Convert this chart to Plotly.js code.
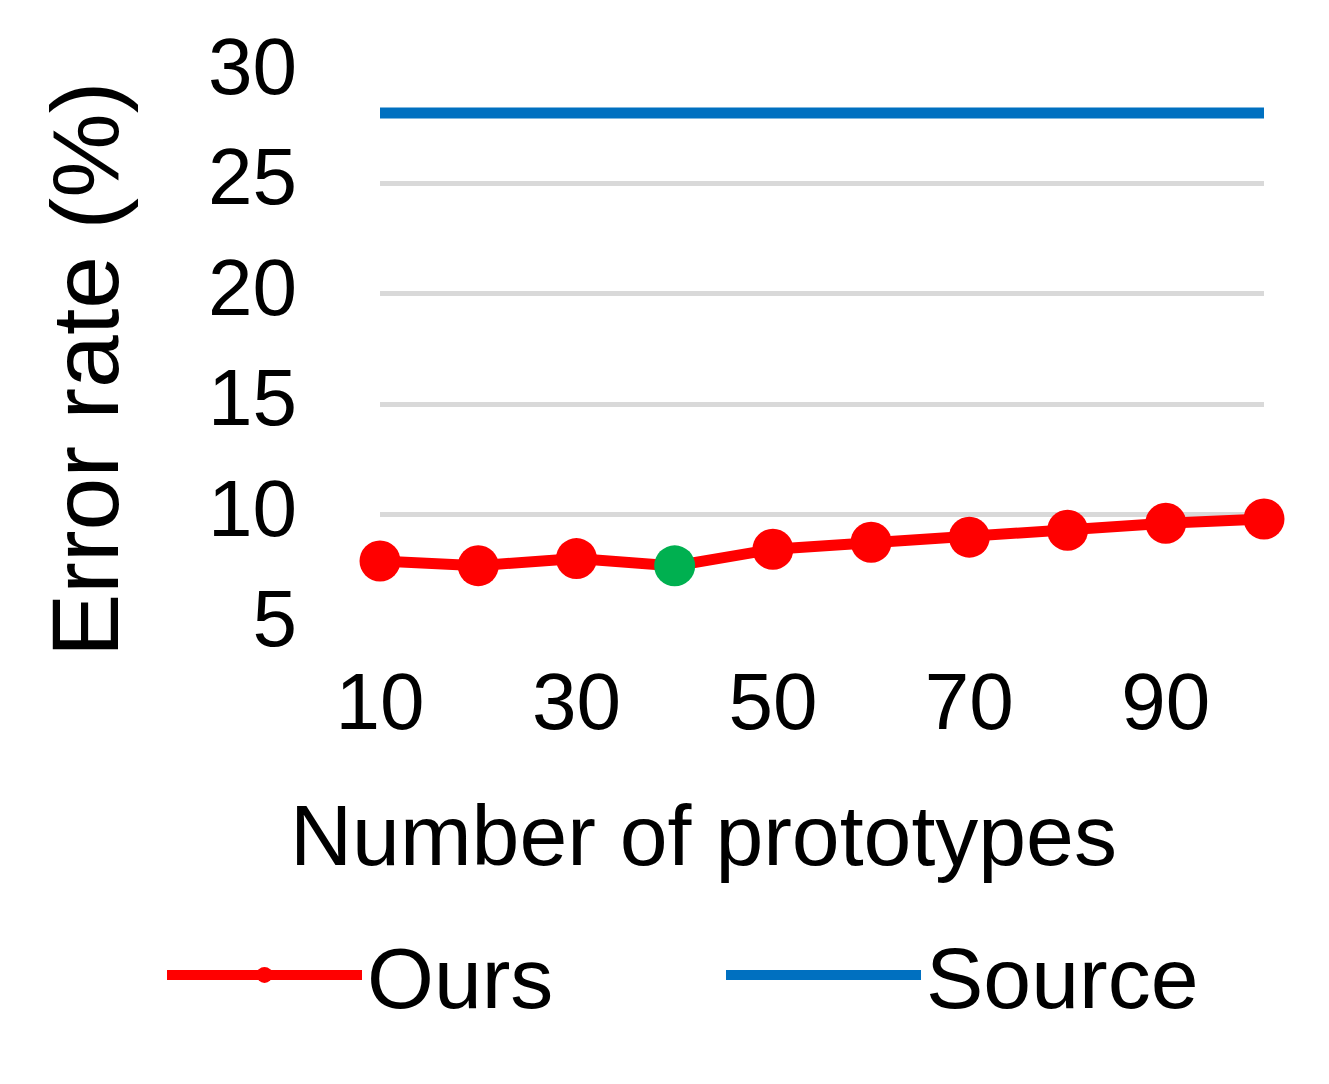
<!DOCTYPE html>
<html>
<head>
<meta charset="utf-8">
<script src="https://cdn.plot.ly/plotly-3.0.1.min.js"></script>
<style>html,body{margin:0;padding:0;background:#fff;}#chart{width:1329px;height:1084px;}</style>
</head>
<body>
<div id="chart"></div>
<script>
const prototypes = [10, 20, 30, 40, 50, 60, 70, 80, 90, 100];
const oursError = [7.91, 7.70, 8.02, 7.69, 8.44, 8.76, 8.99, 9.30, 9.62, 9.81];
const sourceError = [28.17, 28.17, 28.17, 28.17, 28.17, 28.17, 28.17, 28.17, 28.17, 28.17];
const bestIndex = 3;
const xTickVals = [10, 30, 50, 70, 90];
const yTickVals = [5, 10, 15, 20, 25, 30];
const xTitle = 'Number of prototypes';
const yTitle = 'Error rate (%)';

const oursColors = prototypes.map((_, i) => i === bestIndex ? '#00b050' : '#ff0000');
const FONT = 'Liberation Sans, Arial, sans-serif';

const traces = [
  {
    x: prototypes, y: oursError, name: 'Ours', type: 'scatter', mode: 'lines+markers',
    line: {color: '#ff0000', width: 11},
    marker: {color: oursColors, size: 41, line: {width: 0}},
    cliponaxis: false
  },
  {
    x: prototypes, y: sourceError, name: 'Source', type: 'scatter', mode: 'lines',
    line: {color: '#0070c0', width: 11},
    cliponaxis: false
  }
];

const layout = {
  width: 1329, height: 1084,
  margin: {l: 380, r: 65, t: 72, b: 458},
  paper_bgcolor: '#ffffff', plot_bgcolor: '#ffffff',
  font: {family: FONT, color: '#000000'},
  showlegend: true,
  legend: {
    orientation: 'h', xref: 'paper', yref: 'paper',
    x: -0.2466, xanchor: 'left', y: -0.630, yanchor: 'middle',
    font: {size: 86, family: FONT}, itemwidth: 195, entrywidth: 349, entrywidthmode: 'pixels',
    tracegroupgap: 0, itemsizing: 'trace', bgcolor: 'rgba(0,0,0,0)'
  },
  xaxis: {
    range: [10, 100], tickvals: xTickVals, ticktext: xTickVals.map(String),
    showgrid: false, zeroline: false, showline: false, ticks: '',
    tickfont: {size: 80, family: FONT}, ticklabelstandoff: 22
  },
  yaxis: {
    range: [4.97, 30.03], tickvals: yTickVals, ticktext: yTickVals.map(String),
    showgrid: true, gridcolor: '#d9d9d9', gridwidth: 5, zeroline: false, showline: false, ticks: '',
    tickfont: {size: 80, family: FONT}, ticklabelstandoff: 82, ticklabelshift: -7
  },
  annotations: [
    {text: yTitle, xref: 'paper', yref: 'paper', x: -0.3337, y: 0.462, xanchor: 'center', yanchor: 'middle',
     textangle: -90, showarrow: false, font: {size: 95, family: FONT, color: '#000'}},
    {text: xTitle, xref: 'paper', yref: 'paper', x: 0.3654, y: -0.3768, xanchor: 'center', yanchor: 'middle',
     showarrow: false, font: {size: 86, family: FONT, color: '#000'}}
  ]
};

Plotly.newPlot('chart', traces, layout, {displayModeBar: false, staticPlot: true});
</script>
</body>
</html>
